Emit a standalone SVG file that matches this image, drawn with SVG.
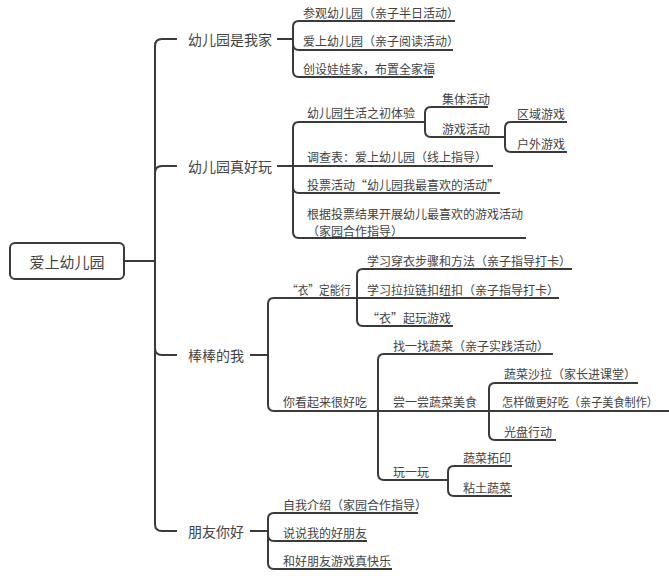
<svg xmlns="http://www.w3.org/2000/svg" width="669" height="576" viewBox="0 0 669 576">
<style>
text{font-family:"Noto Sans CJK SC","Liberation Sans",sans-serif;fill:#434343;dominant-baseline:central}
.t{font-size:12px}
.b{font-size:14px}
.r{font-size:15px}
.c path{fill:none;stroke:#3a3a3a;stroke-width:2}
.box{fill:#fff;stroke:#3a3a3a;stroke-width:2}
</style>
<rect width="669" height="576" fill="#fff"/>
<g class="c" id="connectors">
<path d="M124,261 H155"/>
<path d="M155,261 V46 Q155,39 162,39 H177"/>
<path d="M155,261 V173 Q155,166 162,166 H177"/>
<path d="M155,261 V348 Q155,355 162,355 H177"/>
<path d="M155,261 V524 Q155,531 162,531 H177"/>
<path d="M277,39 H293"/>
<path d="M277,166 H293"/>
<path d="M250,355 H268"/>
<path d="M250,531 H268"/>
<path d="M293,39 V27 Q293,21 299,21 H455"/>
<path d="M293,39 V44 Q293,50 299,50 H453"/>
<path d="M293,39 V71 Q293,77 299,77 H433"/>
<path d="M293,166 V128 Q293,122 299,122 H425"/>
<path d="M293,166 H493"/>
<path d="M293,166 V187 Q293,193 299,193 H500"/>
<path d="M293,166 V232 Q293,238 299,238 H526"/>
<path d="M425,122 V113 Q425,107 431,107 H488"/>
<path d="M425,122 V131 Q425,137 431,137 H505"/>
<path d="M505,137 V128 Q505,122 511,122 H567"/>
<path d="M505,137 V146 Q505,152 511,152 H567"/>
<path d="M268,355 V304 Q268,298 274,298 H357"/>
<path d="M268,355 V405 Q268,411 274,411 H378"/>
<path d="M357,298 V275 Q357,269 363,269 H572"/>
<path d="M357,298 H559"/>
<path d="M357,298 V320 Q357,326 363,326 H453"/>
<path d="M378,411 V360 Q378,354 384,354 H553"/>
<path d="M378,411 H489"/>
<path d="M378,411 V474 Q378,480 384,480 H448"/>
<path d="M489,411 V389 Q489,383 495,383 H638"/>
<path d="M489,411 H669"/>
<path d="M489,411 V434 Q489,440 495,440 H556"/>
<path d="M448,480 V472 Q448,466 454,466 H512"/>
<path d="M448,480 V490 Q448,496 454,496 H512"/>
<path d="M268,531 V519 Q268,513 274,513 H418"/>
<path d="M268,531 V535 Q268,541 274,541 H367"/>
<path d="M268,531 V563 Q268,569 274,569 H392"/>
</g>
<g id="root"><rect class="box" x="10" y="243" width="114" height="36" rx="5"/><text class="r" x="67" y="261" text-anchor="middle">爱上幼儿园</text></g>
<g id="b1"><text class="b" x="188" y="39">幼儿园是我家</text></g>
<g id="b2"><text class="b" x="188" y="166">幼儿园真好玩</text></g>
<g id="b3"><text class="b" x="188" y="355">棒棒的我</text></g>
<g id="b4"><text class="b" x="188" y="531">朋友你好</text></g>
<g id="n1a"><text class="t" x="303" y="12">参观幼儿园（亲子半日活动）</text></g>
<g id="n1b"><text class="t" x="303" y="40">爱上幼儿园（亲子阅读活动）</text></g>
<g id="n1c"><text class="t" x="303" y="68">创设娃娃家，布置全家福</text></g>
<g id="n2a"><text class="t" x="307" y="112">幼儿园生活之初体验</text></g>
<g id="n2a1"><text class="t" x="442" y="98">集体活动</text></g>
<g id="n2a2"><text class="t" x="442" y="128">游戏活动</text></g>
<g id="n2a2a"><text class="t" x="517" y="113">区域游戏</text></g>
<g id="n2a2b"><text class="t" x="517" y="143">户外游戏</text></g>
<g id="n2b"><text class="t" x="307" y="156">调查表：爱上幼儿园（线上指导）</text></g>
<g id="n2c"><text class="t" x="307" y="184">投票活动“幼儿园我最喜欢的活动”</text></g>
<g id="n2d"><text class="t" x="307" y="213">根据投票结果开展幼儿最喜欢的游戏活动</text><text class="t" x="307" y="230">（家园合作指导）</text></g>
<g id="n3a"><text class="t" x="287" y="289" textLength="64" lengthAdjust="spacingAndGlyphs">“衣”定能行</text></g>
<g id="n3a1"><text class="t" x="367" y="260">学习穿衣步骤和方法（亲子指导打卡）</text></g>
<g id="n3a2"><text class="t" x="367" y="289">学习拉拉链扣纽扣（亲子指导打卡）</text></g>
<g id="n3a3"><text class="t" x="367" y="317">“衣”起玩游戏</text></g>
<g id="n3b"><text class="t" x="283" y="401">你看起来很好吃</text></g>
<g id="n3b1"><text class="t" x="393" y="345">找一找蔬菜（亲子实践活动）</text></g>
<g id="n3b2"><text class="t" x="393" y="401">尝一尝蔬菜美食</text></g>
<g id="n3b2a"><text class="t" x="504" y="373">蔬菜沙拉（家长进课堂）</text></g>
<g id="n3b2b"><text class="t" x="502" y="401" textLength="156" lengthAdjust="spacingAndGlyphs">怎样做更好吃（亲子美食制作）</text></g>
<g id="n3b2c"><text class="t" x="504" y="431">光盘行动</text></g>
<g id="n3b3"><text class="t" x="393" y="471">玩一玩</text></g>
<g id="n3b3a"><text class="t" x="463" y="457">蔬菜拓印</text></g>
<g id="n3b3b"><text class="t" x="463" y="487">粘土蔬菜</text></g>
<g id="n4a"><text class="t" x="283" y="504">自我介绍（家园合作指导）</text></g>
<g id="n4b"><text class="t" x="283" y="532">说说我的好朋友</text></g>
<g id="n4c"><text class="t" x="283" y="560">和好朋友游戏真快乐</text></g>
</svg>
